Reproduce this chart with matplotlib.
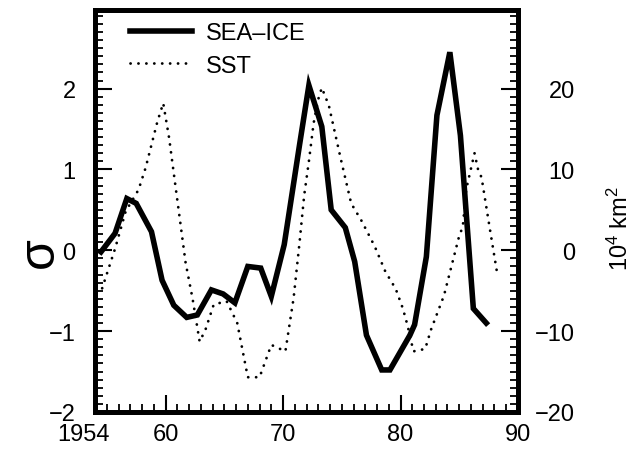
import matplotlib
matplotlib.use("Agg")
import matplotlib.pyplot as plt
from matplotlib.ticker import MultipleLocator, FixedLocator
from matplotlib.transforms import ScaledTranslation

plt.rcParams['font.family'] = ['Liberation Sans', 'DejaVu Sans']
plt.rcParams['mathtext.fontset'] = 'custom'
plt.rcParams['mathtext.rm'] = 'Liberation Sans'
plt.rcParams['mathtext.it'] = 'Liberation Sans'

# SEA-ICE (sigma units)
ice_years = [1954.5, 1955.7, 1956.7, 1957.5, 1958.8, 1959.7, 1960.7, 1961.8,
             1962.7, 1963.9, 1964.9, 1965.9, 1967.0, 1968.1, 1969.0, 1970.1,
             1971.4, 1972.2, 1973.3, 1974.1, 1975.3, 1976.1, 1977.1, 1978.4,
             1979.1, 1980.8, 1981.2, 1982.2, 1983.1, 1984.2, 1985.1, 1986.2,
             1987.3]
ice_vals = [-0.02, 0.21, 0.64, 0.58, 0.23, -0.37, -0.68, -0.83,
            -0.80, -0.49, -0.54, -0.65, -0.20, -0.22, -0.57, 0.07,
            1.30, 2.04, 1.53, 0.50, 0.28, -0.14, -1.05, -1.48,
            -1.48, -1.05, -0.92, -0.08, 1.67, 2.45, 1.42, -0.72,
            -0.90]

# SST (sigma units)
sst_years = [1954.6, 1955.7, 1956.6, 1957.7, 1958.3, 1959.3, 1959.8, 1960.3,
             1961.7, 1962.3, 1962.9, 1963.4, 1964.1, 1965.2, 1966.1, 1967.0,
             1968.0, 1969.0, 1970.2, 1970.9, 1971.4, 1971.8, 1972.2, 1972.6,
             1973.0, 1973.3, 1973.9, 1974.9, 1975.8, 1976.7, 1977.8, 1978.7,
             1979.6, 1980.2, 1980.6, 1981.1, 1982.1, 1982.6, 1983.7, 1985.0,
             1985.3, 1985.6, 1986.3, 1986.6, 1986.9, 1987.6, 1988.2]
sst_vals = [-0.47, 0.02, 0.48, 0.75, 1.02, 1.59, 1.82, 1.39,
            -0.15, -0.60, -1.13, -0.98, -0.67, -0.63, -0.90, -1.57,
            -1.57, -1.17, -1.25, -0.59, 0.09, 0.68, 1.10, 1.57,
            1.87, 2.01, 1.79, 1.14, 0.58, 0.36, 0.05, -0.26,
            -0.48, -0.72, -0.93, -1.25, -1.22, -0.98, -0.56, 0.18,
            0.29, 0.76, 1.20, 1.00, 0.90, 0.27, -0.26]

xticks = [1954, 1960, 1970, 1980, 1990]
xticklabels = ['1954', '60', '70', '80', '90']
left_ticks = [-2, -1, 0, 1, 2]
right_ticks = [-20, -10, 0, 10, 20]

fig = plt.figure(figsize=(6.34, 4.52), dpi=100)
ax = fig.add_axes([0.150, 0.0863, 0.667, 0.889])

ax.plot(ice_years, ice_vals, color='black', lw=4, solid_joinstyle='miter',
        label='SEA–ICE')
ax.plot(sst_years, sst_vals, color='black', lw=2.0,
        linestyle=(0, (0.05, 2.8)), dash_capstyle='round', label='SST')

ax.set_xlim(1954, 1990)
ax.set_ylim(-2, 2.97)
ax.xaxis.set_major_locator(FixedLocator(xticks))
ax.set_xticklabels(xticklabels)
ax.xaxis.set_minor_locator(MultipleLocator(1))
ax.yaxis.set_major_locator(FixedLocator(left_ticks))
ax.yaxis.set_minor_locator(MultipleLocator(0.1))
ax.tick_params(axis='both', which='major', direction='in', length=12,
               width=1.5, labelsize=17, right=False, top=False)
ax.tick_params(axis='both', which='minor', direction='in', length=6,
               width=1.3, right=False, top=False)
ax.tick_params(axis='y', which='major', pad=14)
ax.tick_params(axis='x', which='major', pad=8)

# shift the '1954' label a bit to the left, as in the figure
lab0 = ax.get_xticklabels()[0]
lab0.set_transform(lab0.get_transform() + ScaledTranslation(-0.12, 0, fig.dpi_scale_trans))

for s in ax.spines.values():
    s.set_linewidth(3.5)

ax.set_ylabel('σ', fontsize=36)
ax.yaxis.set_label_coords(-0.076, 0.40)

ax2 = ax.twinx()
ax2.set_ylim(-20, 29.7)
ax2.yaxis.set_major_locator(FixedLocator(right_ticks))
ax2.yaxis.set_minor_locator(MultipleLocator(1))
ax2.tick_params(axis='y', which='major', direction='in', length=12, width=1.5,
                labelsize=17, pad=41)
ax2.tick_params(axis='y', which='minor', direction='in', length=6, width=1.3)
for t in ax2.get_yticklabels():
    t.set_horizontalalignment('right')
for s in ax2.spines.values():
    s.set_linewidth(3.5)
ax2.set_ylabel('10$^4$ km$^2$', fontsize=17, rotation=90)
ax2.yaxis.set_label_coords(1.213, 0.46)

ax.legend(loc='upper left', bbox_to_anchor=(0.055, 1.0), frameon=False,
          fontsize=17, handlelength=2.6, handletextpad=0.6, labelspacing=0.45,
          borderaxespad=0.1)

fig.savefig('out.png', dpi=100)
